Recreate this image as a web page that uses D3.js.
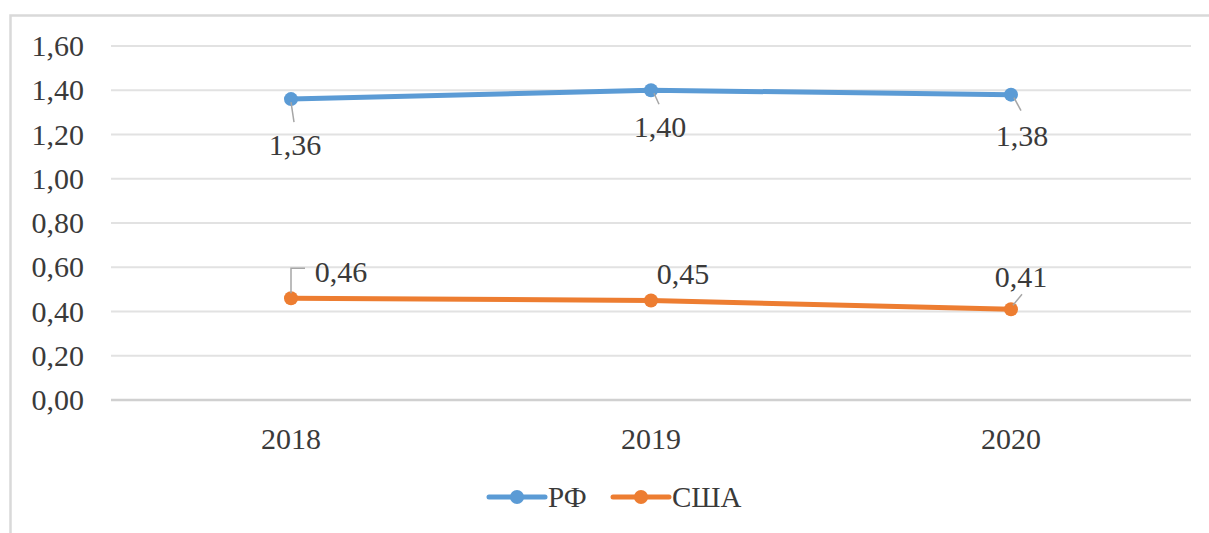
<!DOCTYPE html>
<html>
<head>
  <meta charset="utf-8">
  <script src="https://d3js.org/d3.v7.min.js"></script>
  <style>
  body {
    margin: 0;
    background: #fff;
  }
  text {
    font-family: "Liberation Serif", "Times New Roman", serif;
    fill: #3a3a3a;
  }
  </style>
</head>
<body>
  <script>
    var years = ["2018", "2019", "2020"];
    var rf = [1.36, 1.40, 1.38];
    var usa = [0.46, 0.45, 0.41];
    var yTicks = [0, 0.2, 0.4, 0.6, 0.8, 1.0, 1.2, 1.4, 1.6];
    var seriesNames = ["РФ", "США"];

    var width = 1209;
    var height = 533;

    var svg = d3.select("body")
      .append("svg")
      .attr("width", width)
      .attr("height", height);

    // chart frame (right and bottom edges are cropped off in the original)
    svg.append("path")
      .attr("d", "M10.5," + height + "V15.5H" + width)
      .attr("fill", "none")
      .attr("stroke", "#d9d9d9")
      .attr("stroke-width", 2.5);

    var x = d3.scaleBand()
      .domain(years)
      .range([111, 1191]);

    var y = d3.scaleLinear()
      .domain([0, 1.6])
      .range([400, 46]);

    var fmt = function(d) { return d3.format(".2f")(d).replace(".", ","); };
    var cx = function(i) { return x(years[i]) + x.bandwidth() / 2; };

    // gridlines
    svg.append("g")
      .selectAll("line")
      .data(yTicks)
      .enter()
      .append("line")
      .attr("x1", 111)
      .attr("x2", 1191)
      .attr("y1", function(d) { return y(d); })
      .attr("y2", function(d) { return y(d); })
      .attr("stroke", function(d) { return d === 0 ? "#d0d0d0" : "#e2e2e2"; })
      .attr("stroke-width", function(d) { return d === 0 ? 2.5 : 2; });

    // y axis labels
    var yAxis = svg.append("g")
      .attr("transform", "translate(84,0)")
      .call(d3.axisLeft(y).tickValues(yTicks).tickFormat(fmt).tickSize(0).tickPadding(0));
    yAxis.select(".domain").remove();
    yAxis.selectAll("text")
      .attr("font-family", null)
      .style("font-size", "30px")
      .attr("fill", null);

    // x axis labels
    var xAxis = svg.append("g")
      .attr("transform", "translate(0,420)")
      .call(d3.axisBottom(x).tickSize(0).tickPadding(0));
    xAxis.select(".domain").remove();
    xAxis.selectAll("text")
      .attr("font-family", null)
      .attr("dy", "0.95em")
      .style("font-size", "30px")
      .attr("fill", null);

    var colors = ["#5b9bd5", "#ed7d31"];
    var series = [rf, usa];

    var line = d3.line()
      .x(function(d, i) { return cx(i); })
      .y(function(d) { return y(d); });

    // label offsets relative to the point (layout only)
    var labelOffsets = [
      [[4, 45], [9, 36], [11, 41]],
      [[50, -27], [32, -27], [10, -33]]
    ];
    // leader line polylines relative to the point, null = none
    var leaders = [
      [[[0, 3], [3, 23]], [[3, 3], [8, 14]], [[3, 3], [10, 16]]],
      [[[0, -5], [0, -30], [14, -30]], null, [[2, -4], [11, -15]]]
    ];

    series.forEach(function(values, s) {
      var g = svg.append("g");

      g.append("path")
        .datum(values)
        .attr("d", line)
        .attr("fill", "none")
        .attr("stroke", colors[s])
        .attr("stroke-width", 5)
        .attr("stroke-linejoin", "round");

      g.selectAll("circle")
        .data(values)
        .enter()
        .append("circle")
        .attr("cx", function(d, i) { return cx(i); })
        .attr("cy", function(d) { return y(d); })
        .attr("r", 7)
        .attr("fill", colors[s]);

      var leaderData = values
        .map(function(v, i) { return { v: v, i: i, pts: leaders[s][i] }; })
        .filter(function(d) { return d.pts !== null; });

      g.selectAll("path.leader")
        .data(leaderData)
        .enter()
        .append("path")
        .attr("class", "leader")
        .attr("d", function(d) {
          var px = cx(d.i);
          var py = y(d.v);
          return d3.line()(d.pts.map(function(p) { return [px + p[0], py + p[1]]; }));
        })
        .attr("fill", "none")
        .attr("stroke", "#a6a6a6")
        .attr("stroke-width", 1.5);

      g.selectAll("text")
        .data(values)
        .enter()
        .append("text")
        .attr("x", function(d, i) { return cx(i) + labelOffsets[s][i][0]; })
        .attr("y", function(d, i) { return y(d) + labelOffsets[s][i][1]; })
        .attr("text-anchor", "middle")
        .attr("dy", "0.35em")
        .style("font-size", "30px")
        .text(fmt);
    });

    // legend
    var legendX = [489, 613];
    var legend = svg.append("g");
    seriesNames.forEach(function(name, s) {
      var lx = legendX[s];
      legend.append("line")
        .attr("x1", lx)
        .attr("x2", lx + 56)
        .attr("y1", 497)
        .attr("y2", 497)
        .attr("stroke", colors[s])
        .attr("stroke-width", 5)
        .attr("stroke-linecap", "round");
      legend.append("circle")
        .attr("cx", lx + 28)
        .attr("cy", 497)
        .attr("r", 7)
        .attr("fill", colors[s]);
      legend.append("text")
        .attr("x", lx + 59)
        .attr("y", 497)
        .attr("dy", "0.35em")
        .style("font-size", "29px")
        .text(name);
    });
  </script>
</body>
</html>
